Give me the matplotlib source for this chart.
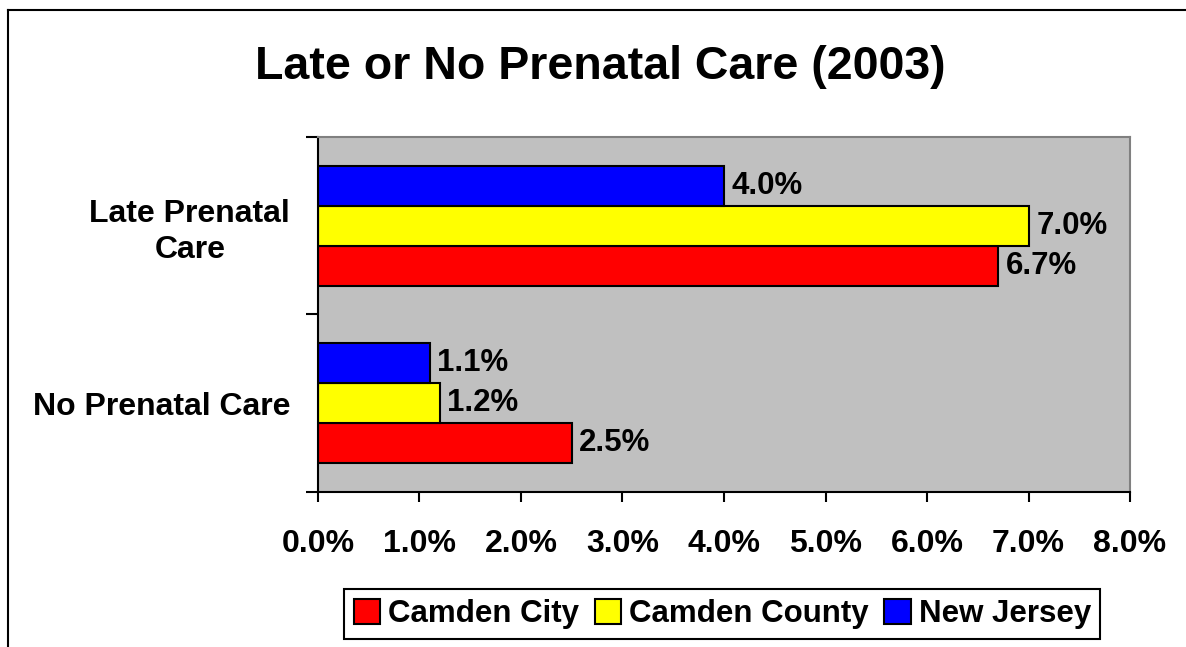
import matplotlib
matplotlib.use('Agg')
import matplotlib.pyplot as plt
from matplotlib.lines import Line2D
from matplotlib.ticker import FuncFormatter
import numpy as np

plt.rcParams['font.family'] = ['Liberation Sans', 'DejaVu Sans']
plt.rcParams['font.weight'] = 'bold'

# data (percent)
categories = ['No Prenatal Care', 'Late Prenatal\nCare']
camden_city = [2.5, 6.7]
camden_county = [1.2, 7.0]
new_jersey = [1.1, 4.0]
series_names = ['Camden City', 'Camden County', 'New Jersey']
x_ticks = [0, 1, 2, 3, 4, 5, 6, 7, 8]

fig = plt.figure(figsize=(11.86, 6.47), dpi=100)
ax = fig.add_axes([0.2681, 0.2396, 0.6847, 0.5487])
ax.set_facecolor('#C0C0C0')

y = np.arange(len(categories))
h = 0.225
bars_city = ax.barh(y - h, camden_city, height=h, color='#FF0000', edgecolor='black', linewidth=1.5, label=series_names[0])
bars_county = ax.barh(y, camden_county, height=h, color='#FFFF00', edgecolor='black', linewidth=1.5, label=series_names[1])
bars_nj = ax.barh(y + h, new_jersey, height=h, color='#0000FF', edgecolor='black', linewidth=1.5, label=series_names[2])

for b in [bars_city, bars_county, bars_nj]:
    ax.bar_label(b, fmt='%.1f%%', padding=5.5, fontsize=22.5, fontweight='bold')

ax.set_xlim(0, 8)
ax.set_ylim(-0.5, 1.5)
ax.set_xticks(x_ticks)
ax.xaxis.set_major_formatter(FuncFormatter(lambda v, p: '%.1f%%' % v))
ax.set_yticks([-0.5, 0.5, 1.5], minor=False)
ax.set_yticklabels(['', '', ''])
ax.set_yticks(y, minor=True)
ax.set_yticklabels(categories, minor=True)
ax.tick_params(axis='y', which='minor', length=0, pad=20, labelsize=23)
ax.tick_params(axis='y', which='major', length=9, width=1.5, direction='out')
ax.tick_params(axis='x', length=7, width=1.5, direction='out', pad=19.5, labelsize=23)
plt.setp(ax.get_yticklabels(minor=True), multialignment='center', linespacing=1.25)

ax.spines['left'].set_color('black')
ax.spines['bottom'].set_color('black')
ax.spines['left'].set_linewidth(1.5)
ax.spines['bottom'].set_linewidth(1.5)
ax.spines['top'].set_color('#808080')
ax.spines['right'].set_color('#808080')
ax.spines['top'].set_linewidth(1.5)
ax.spines['right'].set_linewidth(1.5)

fig.text(0.506, 0.878, 'Late or No Prenatal Care (2003)', ha='center', va='baseline',
         fontsize=33.5, fontweight='bold')

leg = ax.legend(handles=[bars_city, bars_county, bars_nj], labels=series_names,
                loc='center', bbox_to_anchor=(0.609, 0.051), bbox_transform=fig.transFigure,
                ncol=3, fontsize=22.5, frameon=True, fancybox=False, framealpha=1,
                edgecolor='black', handlelength=0.85, handleheight=0.85,
                handletextpad=0.25, columnspacing=0.5, borderpad=0.3)
leg.get_frame().set_linewidth(1.5)

# outer chart border (left and top visible)
fig.add_artist(Line2D([8 / 1186, 8 / 1186], [0, 1 - 10 / 647], transform=fig.transFigure, color='black', linewidth=1.5))
fig.add_artist(Line2D([8 / 1186, 1], [1 - 10 / 647, 1 - 10 / 647], transform=fig.transFigure, color='black', linewidth=1.5))

plt.savefig('out.png', dpi=100)
